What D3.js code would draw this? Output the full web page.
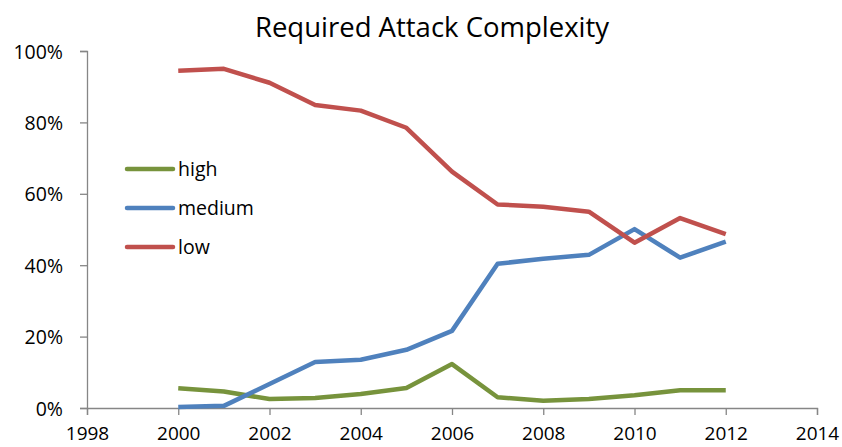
<!DOCTYPE html>
<html>
<head>
<meta charset="utf-8">
<script src="https://cdn.jsdelivr.net/npm/d3@7"></script>
<style>
  body { margin: 0; background: #fff; }
  text { font-family: "Open Sans", "Noto Sans", sans-serif; fill: #000; }
</style>
</head>
<body>
<svg id="chart" width="842" height="447"></svg>
<script>
// chart data
var years = [2000, 2001, 2002, 2003, 2004, 2005, 2006, 2007, 2008, 2009, 2010, 2011, 2012];
var high = [5.5, 4.6, 2.5, 2.8, 3.9, 5.6, 12.3, 3.0, 2.0, 2.5, 3.6, 5.0, 5.0];
var medium = [0.3, 0.6, 6.7, 12.9, 13.5, 16.3, 21.6, 40.4, 41.8, 42.9, 50.1, 42.1, 46.6];
var low = [94.5, 95.0, 91.1, 84.9, 83.3, 78.5, 66.2, 57.0, 56.4, 55.0, 46.3, 53.2, 48.7];
var xTicks = [1998, 2000, 2002, 2004, 2006, 2008, 2010, 2012, 2014];
var yTicks = [0, 20, 40, 60, 80, 100];
var seriesNames = ["high", "medium", "low"];
var colors = { high: "#77933C", medium: "#4F81BD", low: "#C0504D" };

var svg = d3.select("#chart");
var x = d3.scaleLinear().domain([1998, 2014]).range([87, 817]);
var y = d3.scaleLinear().domain([0, 100]).range([408, 51]);

// title
svg.append("text")
  .attr("x", 432).attr("y", 37)
  .attr("text-anchor", "middle")
  .style("font-size", "27.5px")
  .text("Required Attack Complexity");

// y axis
var yAxis = svg.append("g")
  .attr("transform", "translate(87,0)")
  .call(d3.axisLeft(y).tickValues(yTicks).tickSize(7).tickPadding(17)
    .tickFormat(function (d) { return d + "%"; }));
yAxis.select(".domain").attr("stroke", "#868686").attr("stroke-width", 1.3);
yAxis.selectAll(".tick line").attr("stroke", "#868686").attr("stroke-width", 1.3);
yAxis.selectAll("text").style("font-size", "19.5px").attr("dy", "0.36em");

// x axis
var xAxis = svg.append("g")
  .attr("transform", "translate(0,408)")
  .call(d3.axisBottom(x).tickValues(xTicks).tickSize(7).tickPadding(11.5)
    .tickFormat(d3.format("d")));
xAxis.select(".domain").attr("stroke", "#868686").attr("stroke-width", 1.3);
xAxis.selectAll(".tick line").attr("stroke", "#868686").attr("stroke-width", 1.3);
xAxis.selectAll("text").style("font-size", "19px");

// lines
var line = d3.line()
  .x(function (d, i) { return x(years[i]); })
  .y(function (d) { return y(d); });

var data = { high: high, medium: medium, low: low };
seriesNames.forEach(function (name) {
  svg.append("path")
    .attr("d", line(data[name]))
    .attr("fill", "none")
    .attr("stroke", colors[name])
    .attr("stroke-width", 4.5)
    .attr("stroke-linejoin", "round");
});

// legend
var legend = svg.append("g")
  .selectAll("g")
  .data(seriesNames)
  .enter()
  .append("g")
  .attr("transform", function (d, i) { return "translate(127," + (169 + i * 39) + ")"; });
legend.append("line")
  .attr("x1", 0).attr("x2", 46)
  .attr("stroke", function (d) { return colors[d]; })
  .attr("stroke-width", 4.5)
  .attr("stroke-linecap", "round");
legend.append("text")
  .attr("x", 51).attr("dy", "0.36em")
  .style("font-size", "19.5px")
  .text(function (d) { return d; });
</script>
</body>
</html>
